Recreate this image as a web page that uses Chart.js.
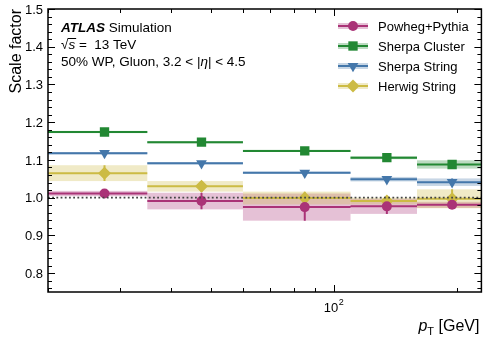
<!DOCTYPE html>
<html>
<head>
<meta charset="utf-8">
<script src="https://cdn.jsdelivr.net/npm/chart.js@4.4.1/dist/chart.umd.min.js"></script>
<style>
  html, body { margin: 0; padding: 0; background: #fff; }
  #wrap { width: 488px; height: 342px; }
</style>
</head>
<body>
<div id="wrap"><canvas id="sfChart" width="488" height="342"></canvas></div>
<script>
// pT bins [GeV] and their centres (markers sit at the arithmetic centre)
const binEdges = [20, 35, 60, 110, 160, 230];
const binCenters = [27.5, 47.5, 85, 135, 195];

// scale factors and uncertainties per bin
const powhegSF = [1.011, 0.991, 0.975, 0.977, 0.981];
const powhegErr = [0.007, 0.022, 0.036, 0.020, 0.008];
const clusterSF = [1.174, 1.147, 1.124, 1.106, 1.088];
const clusterErr = [0.003, 0.003, 0.003, 0.004, 0.011];
const stringSF = [1.118, 1.091, 1.066, 1.049, 1.041];
const stringErr = [0.003, 0.003, 0.003, 0.006, 0.010];
const herwigSF = [1.065, 1.030, 0.999, 0.991, 0.997];
const herwigErr = [0.021, 0.014, 0.017, 0.009, 0.025];

// axis ticks
const yTicks = [0.8, 0.9, 1.0, 1.1, 1.2, 1.3, 1.4, 1.5];
const yTickLabels = ['0.8', '0.9', '1.0', '1.1', '1.2', '1.3', '1.4', '1.5'];
const xMajorTicks = [100];
const xTickLabels = [['10', '2']];
const xMinorTicks = [20, 30, 40, 50, 60, 70, 80, 90, 200];

const FONT = '"Liberation Sans", Arial, Helvetica, sans-serif';

const series = [
  { name: 'Powheg+Pythia', sf: powhegSF, err: powhegErr, color: '#AA3377', band: 'rgba(170,51,119,0.3)', style: 'circle', radius: 5, rotation: 0 },
  { name: 'Sherpa Cluster', sf: clusterSF, err: clusterErr, color: '#228833', band: 'rgba(34,136,51,0.3)', style: 'rect', radius: 6.6, rotation: 0 },
  { name: 'Sherpa String', sf: stringSF, err: stringErr, color: '#4477AA', band: 'rgba(68,119,170,0.3)', style: 'triangle', radius: 6.2, rotation: 180 },
  { name: 'Herwig String', sf: herwigSF, err: herwigErr, color: '#CCBB44', band: 'rgba(204,187,68,0.3)', style: 'rectRot', radius: 6.5, rotation: 0 }
];

function binSteps(values) {
  const pts = [];
  values.forEach((v, i) => {
    pts.push({ x: binEdges[i], y: v });
    pts.push({ x: binEdges[i + 1], y: v });
    pts.push({ x: binEdges[i + 1], y: null });
  });
  return pts;
}

const datasets = [];
// reference line at 1
datasets.push({
  type: 'line',
  data: [{ x: binEdges[0], y: 1 }, { x: binEdges[binEdges.length - 1], y: 1 }],
  borderColor: '#444',
  borderWidth: 1.8,
  borderDash: [1.8, 2.4],
  pointRadius: 0,
  order: 0
});
series.forEach(s => {
  datasets.push({
    type: 'scatter',
    label: s.name,
    data: s.sf.map((v, i) => ({ x: binCenters[i], y: v })),
    backgroundColor: s.color,
    borderWidth: 0,
    pointStyle: s.style,
    pointRadius: s.radius,
    rotation: s.rotation,
    order: 1
  });
  datasets.push({
    type: 'line',
    data: binSteps(s.sf),
    borderColor: s.color,
    borderWidth: 2,
    pointRadius: 0,
    spanGaps: false,
    order: 2
  });
});

// uncertainty bands and vertical error bars, drawn under the datasets
const bandPlugin = {
  id: 'bands',
  beforeDatasetsDraw(chart) {
    const { ctx, chartArea, scales: { x, y } } = chart;
    ctx.save();
    ctx.beginPath();
    ctx.rect(chartArea.left, chartArea.top, chartArea.width, chartArea.height);
    ctx.clip();
    series.forEach(s => {
      ctx.fillStyle = s.band;
      s.sf.forEach((v, i) => {
        const x0 = x.getPixelForValue(binEdges[i]);
        const x1 = x.getPixelForValue(binEdges[i + 1]);
        const y0 = y.getPixelForValue(v + s.err[i]);
        const y1 = y.getPixelForValue(v - s.err[i]);
        ctx.fillRect(x0, y0, x1 - x0, y1 - y0);
      });
    });
    series.forEach(s => {
      ctx.strokeStyle = s.color;
      ctx.lineWidth = 2;
      s.sf.forEach((v, i) => {
        const xc = x.getPixelForValue(binCenters[i]);
        ctx.beginPath();
        ctx.moveTo(xc, y.getPixelForValue(v + s.err[i]));
        ctx.lineTo(xc, y.getPixelForValue(v - s.err[i]));
        ctx.stroke();
      });
    });
    ctx.restore();
  }
};

function drawMarker(ctx, style, cx, cy, r, color) {
  ctx.fillStyle = color;
  ctx.beginPath();
  if (style === 'circle') {
    ctx.arc(cx, cy, r, 0, Math.PI * 2);
  } else if (style === 'rect') {
    const h = r * Math.SQRT1_2;
    ctx.rect(cx - h, cy - h, 2 * h, 2 * h);
  } else if (style === 'triangle') {
    ctx.moveTo(cx, cy + r);
    ctx.lineTo(cx + r * 0.866, cy - r / 2);
    ctx.lineTo(cx - r * 0.866, cy - r / 2);
    ctx.closePath();
  } else {
    ctx.moveTo(cx, cy - r);
    ctx.lineTo(cx + r, cy);
    ctx.lineTo(cx, cy + r);
    ctx.lineTo(cx - r, cy);
    ctx.closePath();
  }
  ctx.fill();
}

// ATLAS style frame, inward ticks, labels, legend and annotations
const framePlugin = {
  id: 'atlasFrame',
  afterDraw(chart) {
    const { ctx, chartArea: a, scales: { x, y } } = chart;
    ctx.save();
    ctx.strokeStyle = '#000';
    ctx.fillStyle = '#000';

    // ticks
    ctx.lineWidth = 1;
    const tick = (x0, y0, x1, y1) => { ctx.beginPath(); ctx.moveTo(x0, y0); ctx.lineTo(x1, y1); ctx.stroke(); };
    for (let k = 38; k <= 75; k++) {
      const v = k / 50;
      const py = Math.round(y.getPixelForValue(v)) + 0.5;
      const len = (k % 5 === 0) ? 7 : 4;
      tick(a.left, py, a.left + len, py);
      tick(a.right, py, a.right - len, py);
    }
    xMinorTicks.forEach(v => {
      const px = Math.round(x.getPixelForValue(v)) + 0.5;
      tick(px, a.bottom, px, a.bottom - 4);
      tick(px, a.top, px, a.top + 4);
    });
    xMajorTicks.forEach(v => {
      const px = Math.round(x.getPixelForValue(v)) + 0.5;
      tick(px, a.bottom, px, a.bottom - 7);
      tick(px, a.top, px, a.top + 7);
    });

    // frame
    ctx.lineWidth = 1.5;
    ctx.strokeRect(a.left, a.top, a.right - a.left, a.bottom - a.top);

    // tick labels
    ctx.font = '13px ' + FONT;
    ctx.textAlign = 'right';
    ctx.textBaseline = 'middle';
    yTicks.forEach((v, i) => {
      ctx.fillText(yTickLabels[i], a.left - 5, y.getPixelForValue(v) + 1);
    });
    ctx.textBaseline = 'alphabetic';
    xMajorTicks.forEach((v, i) => {
      const [base, exp] = xTickLabels[i];
      ctx.font = '13px ' + FONT;
      const wb = ctx.measureText(base).width;
      ctx.font = '9px ' + FONT;
      const we = ctx.measureText(exp).width;
      const left = x.getPixelForValue(v) - (wb + we) / 2;
      ctx.textAlign = 'left';
      ctx.font = '13px ' + FONT;
      ctx.fillText(base, left, 311.5);
      ctx.font = '9px ' + FONT;
      ctx.fillText(exp, left + wb + 0.5, 305);
    });

    // axis titles
    ctx.font = '16px ' + FONT;
    ctx.textAlign = 'right';
    ctx.save();
    ctx.translate(20.5, a.top);
    ctx.rotate(-Math.PI / 2);
    ctx.fillText('Scale factor', 0, 0);
    ctx.restore();

    ctx.textAlign = 'left';
    const rightX = a.right - 2;
    ctx.font = '16px ' + FONT;
    const wRest = ctx.measureText(' [GeV]').width;
    ctx.font = '11px ' + FONT;
    const wT = ctx.measureText('T').width;
    ctx.font = 'italic 16px ' + FONT;
    const wp = ctx.measureText('p').width;
    let cx = rightX - wRest - wT - wp;
    ctx.fillText('p', cx, 330.5);
    cx += wp;
    ctx.font = '11px ' + FONT;
    ctx.fillText('T', cx, 335);
    cx += wT;
    ctx.font = '16px ' + FONT;
    ctx.fillText(' [GeV]', cx, 330.5);

    // ATLAS label
    let tx = 61;
    ctx.font = 'italic bold 13.5px ' + FONT;
    ctx.fillText('ATLAS', tx, 32);
    tx += ctx.measureText('ATLAS').width;
    ctx.font = '13.5px ' + FONT;
    ctx.fillText(' Simulation', tx, 32);

    tx = 61;
    ctx.fillText('\u221A', tx, 49);
    tx += ctx.measureText('\u221A').width;
    ctx.font = 'italic 13.5px ' + FONT;
    const ws = ctx.measureText('s').width;
    ctx.fillText('s', tx, 49);
    ctx.lineWidth = 1;
    tick(tx - 0.5, 38.5, tx + ws + 1, 38.5);
    tx += ws;
    ctx.font = '13.5px ' + FONT;
    ctx.fillText(' =  13 TeV', tx, 49);

    tx = 61;
    const parts = [['50% WP, Gluon, 3.2 < |', ''], ['\u03B7', 'italic '], ['| < 4.5', '']];
    parts.forEach(([t, st]) => {
      ctx.font = st + '13.5px ' + FONT;
      ctx.fillText(t, tx, 66);
      tx += ctx.measureText(t).width;
    });

    // legend
    series.forEach((s, i) => {
      const ry = 26 + i * 20;
      ctx.fillStyle = s.band;
      ctx.fillRect(338, ry - 3, 30, 6);
      ctx.strokeStyle = s.color;
      ctx.lineWidth = 2;
      tick(338, ry, 368, ry);
      drawMarker(ctx, s.style, 353, ry, s.radius, s.color);
      ctx.fillStyle = '#000';
      ctx.font = '13px ' + FONT;
      ctx.fillText(s.name, 378, ry + 4.5);
    });

    ctx.restore();
  }
};

new Chart(document.getElementById('sfChart'), {
  type: 'scatter',
  data: { datasets: datasets },
  options: {
    responsive: false,
    animation: false,
    devicePixelRatio: 1,
    layout: { padding: { left: 48, right: 4, top: 9, bottom: 50 } },
    plugins: {
      legend: { display: false },
      tooltip: { enabled: false }
    },
    scales: {
      x: { type: 'logarithmic', min: binEdges[0], max: binEdges[binEdges.length - 1], display: false },
      y: { type: 'linear', min: 0.75, max: 1.5, display: false }
    }
  },
  plugins: [bandPlugin, framePlugin]
});
</script>
</body>
</html>
